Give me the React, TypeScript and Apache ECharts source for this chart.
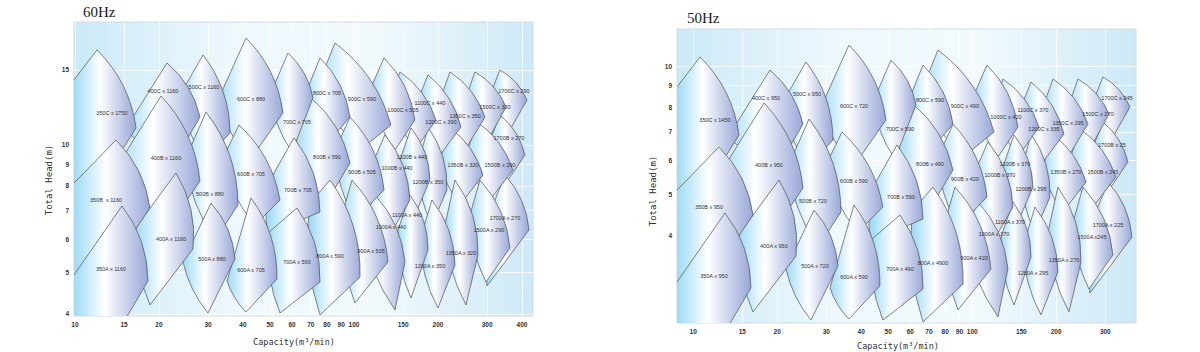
import React, { useEffect, useRef } from 'react';
import * as echarts from 'echarts';

// ---------- axis ticks / ranges ----------
const X_TICKS_60 = [10, 15, 20, 30, 40, 50, 60, 70, 80, 90, 100, 150, 200, 300, 400];
const Y_TICKS_60 = [4, 5, 6, 7, 8, 9, 10, 15];
const X_TICKS_50 = [10, 15, 20, 30, 40, 50, 60, 70, 80, 90, 100, 150, 200, 300];
const Y_TICKS_50 = [4, 5, 6, 7, 8, 9, 10];
const X_RANGE_60 = [9.92, 438.2];
const Y_RANGE_60 = [3.955, 19.45];
const X_RANGE_50 = [8.75, 386.5];
const Y_RANGE_50 = [2.486, 12.23];

// ---------- 60Hz tiles (capacity m3/min, head m) ----------
const LABELS_60 = ['1700C x 290', '1700B x 270', '1700A x 270', '1500C x 320', '1500B x 290', '1500A x 290', '1350C x 350', '1350B x 320', '1350A x 320', '1200C x 390', '1200B x 350', '1200A x 350', '1100C x 440', '1100B x 440', '1100A x 440', '1000C x 505', '1000B x 440', '1000A x 440', '900C x 590', '900B x 505', '900A x 505', '800C x 705', '800B x 590', '800A x 590', '700C x 705', '700B x 705', '700A x 590', '600C x 880', '600B x 705', '600A x 705', '500C x 1160', '500B x 880', '500A x 880', '400C x 1160', '400B x 1160', '400A x 1160', '350C x 1750', '350B  x 1160', '350A x 1160'];
const LEFT_60 = [[307.2, 13.10], [307.2, 10.26], [320.2, 7.414], [250.0, 12.75], [252.0, 9.463], [260.5, 6.838], [203.3, 12.75], [203.3, 9.210], [211.9, 6.476], [169.6, 12.75], [169.6, 8.965], [172.4, 5.970], [136.9, 13.10], [146.2, 9.210], [143.8, 6.303], [114.1, 13.46], [115.9, 8.965], [106.8, 6.476], [74.31, 13.83], [85.49, 9.721], [90.58, 6.838], [66.74, 13.10], [61.44, 10.55], [69.55, 7.293], [50.0, 13.10], [50.0, 8.260], [49.18, 6.201], [32.56, 12.75], [33.65, 9.210], [35.06, 4.782], [23.79, 13.10], [24.79, 9.210], [24.39, 5.300], [15.11, 10.84], [14.26, 8.965], [16.55, 6.406], [7.49, 11.19], [7.49, 6.727], [7.49, 3.788]];
const TOP_60 = [[333.7, 15.00], [333.7, 11.75], [347.7, 8.492], [271.4, 14.84], [275.9, 11.32], [282.9, 8.260], [220.9, 14.84], [220.9, 10.96], [230.1, 8.260], [184.2, 14.60], [184.2, 11.01], [190.3, 7.414], [146.2, 14.84], [160.1, 10.96], [158.7, 7.618], [128.1, 16.01], [129.1, 10.55], [118.9, 7.618], [85.49, 17.36], [96.77, 11.62], [98.38, 8.260], [75.54, 16.01], [69.55, 12.96], [82.03, 8.260], [58.0, 16.44], [60.94, 10.38], [62.47, 7.101], [41.01, 17.83], [38.71, 11.13], [42.75, 7.497], [28.76, 16.27], [29.48, 11.94], [30.73, 7.293], [21.37, 15.58], [20.34, 13.03], [23.02, 8.584], [11.99, 16.72], [14.03, 10.26], [14.74, 7.178]];
const RIGHT_60 = [[417.0, 12.75], [410.1, 9.463], [423.9, 6.303], [350.6, 12.27], [371.3, 8.721], [362.3, 5.717], [294.8, 11.62], [290.0, 8.492], [278.2, 5.504], [241.8, 11.01], [215.4, 7.829], [230.1, 5.214], [196.7, 11.44], [187.2, 8.260], [184.2, 5.656], [165.4, 11.44], [158.7, 7.414], [152.3, 5.300], [135.7, 11.13], [128.1, 7.829], [132.4, 5.300], [96.77, 11.62], [96.77, 9.062], [105.1, 4.886], [71.30, 12.89], [75.54, 6.949], [75.54, 4.756], [55.66, 11.88], [54.29, 7.414], [52.94, 4.833], [35.94, 10.66], [38.39, 7.218], [37.45, 5.386], [28.06, 11.62], [28.06, 8.218], [26.48, 5.686], [16.55, 10.96], [18.57, 7.101], [18.27, 4.782]];
const BOTTOM_60 = [[362.3, 10.84], [356.4, 8.260], [299.7, 4.653], [302.2, 10.26], [307.2, 7.414], [297.2, 4.756], [250.0, 9.721], [239.8, 7.218], [252.0, 4.199], [203.3, 9.463], [190.3, 6.476], [200.0, 4.131], [165.4, 9.721], [165.4, 6.838], [160.1, 4.360], [140.3, 9.721], [134.6, 6.134], [140.3, 4.086], [105.1, 9.721], [100.8, 6.655], [100.8, 4.245], [82.03, 10.26], [78.71, 7.218], [75.54, 3.978], [59.95, 9.619], [49.18, 6.167], [54.29, 4.020], [42.40, 9.210], [44.17, 6.476], [41.01, 4.042], [29.24, 9.210], [31.76, 5.970], [29.98, 4.020], [22.83, 9.210], [21.91, 6.476], [18.57, 4.199], [10.60, 6.838], [10.77, 4.199], [14.74, 3.767]];
const TEXT_AT_60 = [[374.5, 13.39], [359.3, 10.38], [347.7, 6.727], [320.2, 12.27], [333.7, 8.965], [304.7, 6.303], [250.0, 11.69], [245.8, 8.965], [241.8, 5.564], [205.0, 11.32], [184.2, 8.174], [187.2, 5.186], [187.2, 12.54], [161.4, 9.361], [154.9, 6.838], [149.8, 12.07], [142.6, 8.818], [135.7, 6.406], [106.8, 12.82], [106.8, 8.630], [115.1, 5.625], [80.04, 13.24], [80.04, 9.361], [82.03, 5.475], [62.47, 11.32], [63.00, 7.829], [62.47, 5.300], [42.75, 12.82], [42.75, 8.536], [42.75, 5.075], [29.00, 13.68], [30.47, 7.660], [30.98, 5.386], [20.68, 13.39], [21.19, 9.311], [22.09, 6.003], [13.57, 11.88], [12.92, 7.414], [13.46, 5.102]];

// ---------- 50Hz tiles ----------
const LABELS_50 = ['1700C x 245', '1700B x 25', '1700A x 225', '1500C x 270', '1500B x 245', '1500A x245', '1350C x 295', '1350B x 270', '1350A x 270', '1200C x 335', '1200B x 295', '1200A x 295', '1100C x 370', '1100B x 370', '1100A x 370', '1000C x 420', '1000B x 370', '1000A x 370', '900C x 490', '900B x 420', '900A x 420', '800C x 590', '800B x 490', '800A x 4900', '700C x 590', '700B x 590', '700A x 490', '600C x 720', '600B x 590', '600A x 590', '500C x 950', '500B x 720', '500A x 720', '400C x 950', '400B x 950', '400A x 950', '350C x 1450', '350B x 950', '350A x 950'];
const LEFT_50 = [[271.0, 8.235], [271.0, 6.450], [282.4, 4.660], [220.5, 8.015], [222.3, 5.948], [229.8, 4.298], [179.3, 8.015], [179.3, 5.789], [186.9, 4.071], [149.6, 8.015], [149.6, 5.635], [152.1, 3.753], [120.7, 8.235], [128.9, 5.789], [126.8, 3.962], [100.6, 8.461], [102.2, 5.635], [94.20, 4.071], [65.54, 8.693], [75.40, 6.111], [79.89, 4.298], [58.86, 8.235], [54.19, 6.632], [61.34, 4.584], [44.10, 8.235], [44.10, 5.192], [43.38, 3.898], [28.72, 8.015], [29.68, 5.789], [30.92, 3.006], [20.98, 8.235], [21.86, 5.789], [21.51, 3.332], [13.33, 6.814], [12.58, 5.635], [14.60, 4.027], [6.61, 7.034], [6.61, 4.229], [6.61, 2.381]];
const TOP_50 = [[294.3, 9.429], [294.3, 7.386], [306.7, 5.338], [239.4, 9.329], [243.3, 7.116], [249.5, 5.192], [194.8, 9.329], [194.8, 6.889], [202.9, 5.192], [162.5, 9.178], [162.5, 6.921], [167.8, 4.660], [128.9, 9.329], [141.2, 6.889], [140.0, 4.789], [113.0, 10.06], [113.9, 6.632], [104.9, 4.789], [75.40, 10.91], [85.35, 7.304], [86.77, 5.192], [66.63, 10.06], [61.34, 8.147], [72.35, 5.192], [51.16, 10.33], [53.75, 6.525], [55.10, 4.464], [36.17, 11.21], [34.14, 6.996], [37.71, 4.713], [25.37, 10.23], [26.00, 7.506], [27.10, 4.584], [18.85, 9.794], [17.94, 8.191], [20.30, 5.396], [10.58, 10.51], [12.37, 6.450], [13.00, 4.512]];
const RIGHT_50 = [[367.8, 8.015], [361.7, 5.948], [373.9, 3.962], [309.2, 7.713], [327.5, 5.482], [319.5, 3.594], [260.0, 7.304], [255.8, 5.338], [245.4, 3.460], [213.3, 6.921], [190.0, 4.921], [202.9, 3.278], [173.5, 7.191], [165.1, 5.192], [162.5, 3.555], [145.9, 7.191], [140.0, 4.660], [134.3, 3.332], [119.7, 6.996], [113.0, 4.921], [116.8, 3.332], [85.35, 7.304], [85.35, 5.696], [92.70, 3.071], [62.89, 8.103], [66.63, 4.368], [66.63, 2.990], [49.09, 7.468], [47.88, 4.660], [46.69, 3.038], [31.70, 6.701], [33.86, 4.537], [33.03, 3.386], [24.75, 7.304], [24.75, 5.166], [23.36, 3.574], [14.60, 6.889], [16.38, 4.464], [16.11, 3.006]];
const BOTTOM_50 = [[319.5, 6.814], [314.3, 5.192], [264.3, 2.925], [266.5, 6.450], [271.0, 4.660], [262.1, 2.990], [220.5, 6.111], [211.5, 4.537], [222.3, 2.640], [179.3, 5.948], [167.8, 4.071], [176.4, 2.597], [145.9, 6.111], [145.9, 4.298], [141.2, 2.741], [123.7, 6.111], [118.7, 3.856], [123.7, 2.568], [92.70, 6.111], [88.91, 4.183], [88.91, 2.668], [72.35, 6.450], [69.42, 4.537], [66.63, 2.501], [52.88, 6.047], [43.38, 3.877], [47.88, 2.527], [37.40, 5.789], [38.96, 4.071], [36.17, 2.541], [25.79, 5.789], [28.01, 3.753], [26.44, 2.527], [20.14, 5.789], [19.32, 4.071], [16.38, 2.640], [9.35, 4.298], [9.50, 2.640], [13.00, 2.368]];
const TEXT_AT_50 = [[330.3, 8.417], [316.9, 6.525], [306.7, 4.229], [282.4, 7.713], [294.3, 5.635], [268.7, 3.962], [220.5, 7.348], [216.8, 5.635], [213.3, 3.498], [180.8, 7.116], [162.5, 5.138], [165.1, 3.260], [165.1, 7.883], [142.4, 5.884], [136.6, 4.298], [132.1, 7.587], [125.8, 5.543], [119.7, 4.027], [94.20, 8.059], [94.20, 5.425], [101.5, 3.536], [70.60, 8.323], [70.60, 5.884], [72.35, 3.442], [55.10, 7.116], [55.57, 4.921], [55.10, 3.332], [37.71, 8.059], [37.71, 5.366], [37.71, 3.190], [25.58, 8.599], [26.87, 4.815], [27.32, 3.386], [18.24, 8.417], [18.69, 5.853], [19.48, 3.774], [11.97, 7.468], [11.40, 4.660], [11.87, 3.207]];

const TILE_STOPS = [
  { offset: 0, color: '#9ddbf5' },
  { offset: 0.42, color: '#ffffff' },
  { offset: 1, color: '#97a7d8' },
];

function bulge(a: number[], b: number[], k: number) {
  const mx = (a[0] + b[0]) / 2;
  const my = (a[1] + b[1]) / 2;
  const dx = b[0] - a[0];
  const dy = b[1] - a[1];
  return [mx + dy * k, my - dx * k];
}

function makeTileRender(L: number[][], T: number[][], R: number[][], B: number[][]) {
  return (params: any, api: any) => {
    const i = params.dataIndex;
    const cs = params.coordSys;
    const pl = api.coord(L[i]);
    const pt = api.coord(T[i]);
    const pr = api.coord(R[i]);
    const pb = api.coord(B[i]);
    const c1 = bulge(pt, pr, 0.17);
    const c2 = bulge(pb, pl, 0.12);
    const d = `M${pl[0]},${pl[1]}L${pt[0]},${pt[1]}Q${c1[0]},${c1[1]} ${pr[0]},${pr[1]}L${pb[0]},${pb[1]}Q${c2[0]},${c2[1]} ${pl[0]},${pl[1]}Z`;
    const xs = [pl[0], pt[0], pr[0], pb[0], c1[0]];
    const x0 = Math.max(Math.min(...xs), cs.x);
    const x1 = Math.min(Math.max(...xs), cs.x + cs.width);
    return {
      type: 'path',
      shape: { pathData: d },
      style: {
        fill: new echarts.graphic.LinearGradient(x0, 0, x1, 0, TILE_STOPS, true),
        stroke: '#505050',
        lineWidth: 0.7,
      },
    };
  };
}

function makeLabelRender(P: number[][], labels: string[]) {
  return (params: any, api: any) => {
    const i = params.dataIndex;
    const lp = api.coord(P[i]);
    return {
      type: 'text',
      style: {
        text: labels[i],
        x: lp[0],
        y: lp[1],
        align: 'center',
        verticalAlign: 'middle',
        fontSize: 5.5,
        fontFamily: 'Liberation Sans',
        fill: '#333',
      },
    };
  };
}

function plotBg() {
  return new echarts.graphic.LinearGradient(0, 0, 1, 0, [
    { offset: 0, color: '#cbeaf8' },
    { offset: 0.35, color: '#eef8fd' },
    { offset: 0.65, color: '#f2fafd' },
    { offset: 1, color: '#cde9f7' },
  ]);
}

function axisOf(gridIndex: number, range: number[], ticks: number[]) {
  return {
    type: 'log',
    logBase: 10,
    gridIndex,
    min: range[0],
    max: range[1],
    axisLine: { show: false },
    axisTick: { show: false, customValues: ticks },
    axisLabel: { customValues: ticks, fontSize: 6.5, color: '#333', margin: 5, fontFamily: 'Liberation Sans', fontWeight: 'bold' },
    splitLine: { show: true, lineStyle: { color: 'rgba(255,255,255,0.75)', width: 1 } },
    minorTick: { show: false },
    minorSplitLine: { show: false },
  };
}

function seriesFor(idx: number, L: number[][], T: number[][], R: number[][], B: number[][], P: number[][], labels: string[]) {
  return [
    {
      type: 'custom',
      coordinateSystem: 'cartesian2d',
      xAxisIndex: idx,
      yAxisIndex: idx,
      clip: true,
      silent: true,
      data: T,
      encode: { x: 0, y: 1 },
      renderItem: makeTileRender(L, T, R, B),
      z: 2,
    },
    {
      type: 'custom',
      coordinateSystem: 'cartesian2d',
      xAxisIndex: idx,
      yAxisIndex: idx,
      clip: true,
      silent: true,
      data: P,
      encode: { x: 0, y: 1 },
      renderItem: makeLabelRender(P, labels),
      z: 3,
    },
  ];
}

export default function App() {
  const ref = useRef<HTMLDivElement>(null);
  useEffect(() => {
    const chart = echarts.init(ref.current as HTMLDivElement, undefined, { renderer: 'svg' });
    const nameStyle = { fontFamily: 'DejaVu Sans Mono', fontSize: 9, fill: '#333', align: 'center', verticalAlign: 'middle' };
    chart.setOption({
      animation: false,
      backgroundColor: '#ffffff',
      title: [
        { text: '60Hz', left: 83, top: 4, padding: 0, textStyle: { fontFamily: 'Liberation Serif', fontSize: 15, fontWeight: 'normal', color: '#222' } },
        { text: '50Hz', left: 687, top: 10, padding: 0, textStyle: { fontFamily: 'Liberation Serif', fontSize: 15, fontWeight: 'normal', color: '#222' } },
      ],
      grid: [
        { left: 74, top: 22, width: 459, height: 294, show: true, backgroundColor: plotBg(), borderColor: '#d3dbe2', borderWidth: 1 },
        { left: 677, top: 29, width: 459, height: 294, show: true, backgroundColor: plotBg(), borderColor: '#d3dbe2', borderWidth: 1 },
      ],
      xAxis: [axisOf(0, X_RANGE_60, X_TICKS_60), axisOf(1, X_RANGE_50, X_TICKS_50)],
      yAxis: [axisOf(0, Y_RANGE_60, Y_TICKS_60), axisOf(1, Y_RANGE_50, Y_TICKS_50)],
      series: [
        ...seriesFor(0, LEFT_60, TOP_60, RIGHT_60, BOTTOM_60, TEXT_AT_60, LABELS_60),
        ...seriesFor(1, LEFT_50, TOP_50, RIGHT_50, BOTTOM_50, TEXT_AT_50, LABELS_50),
      ],
      graphic: [
        { type: 'text', x: 49, y: 180, rotation: Math.PI / 2, style: { text: 'Total Head(m)', ...nameStyle } },
        { type: 'text', x: 653, y: 191, rotation: Math.PI / 2, style: { text: 'Total Head(m)', ...nameStyle } },
        { type: 'text', x: 294, y: 342, style: { text: 'Capacity(m³/min)', ...nameStyle, fontSize: 8.5 } },
        { type: 'text', x: 898, y: 346, style: { text: 'Capacity(m³/min)', ...nameStyle, fontSize: 8.5 } },
      ],
    });
    return () => chart.dispose();
  }, []);
  return <div ref={ref} style={{ position: 'absolute', left: 0, top: 0, width: 1200, height: 352 }} />;
}
